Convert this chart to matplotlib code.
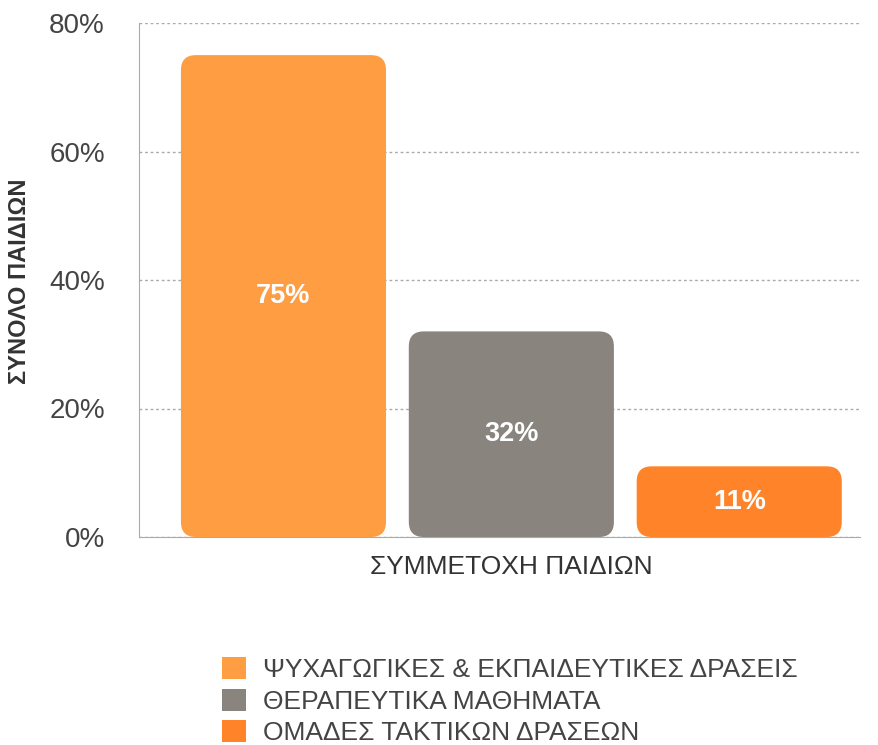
import matplotlib.pyplot as plt
from matplotlib.patches import FancyBboxPatch, Patch

plt.rcParams['font.family'] = ['Liberation Sans', 'DejaVu Sans']

# data
categories = ['ΨΥΧΑΓΩΓΙΚΕΣ & ΕΚΠΑΙΔΕΥΤΙΚΕΣ ΔΡΑΣΕΙΣ',
              'ΘΕΡΑΠΕΥΤΙΚΑ ΜΑΘΗΜΑΤΑ',
              'ΟΜΑΔΕΣ ΤΑΚΤΙΚΩΝ ΔΡΑΣΕΩΝ']
values = [0.75, 0.32, 0.11]
colors = ['#FE9D41', '#8A847F', '#FF8429']
y_ticks = [0, 0.2, 0.4, 0.6, 0.8]
y_tick_labels = ['0%', '20%', '40%', '60%', '80%']
x_title = 'ΣΥΜΜΕΤΟΧΗ ΠΑΙΔΙΩΝ'
y_title = 'ΣΥΝΟΛΟ ΠΑΙΔΙΩΝ'

W, H = 879, 745
fig = plt.figure(figsize=(W / 100, H / 100), dpi=100)
ax = fig.add_axes([139 / W, 1 - 537 / H, (860 - 139) / W, (537 - 23) / H])

bar_w = 0.9
xlim = (-0.634, 2.53)
ylim = (0, 0.8)
ax.set_xlim(*xlim)
ax.set_ylim(*ylim)

# px per data unit, for rounded corners
px_x = (860 - 139) / (xlim[1] - xlim[0])
px_y = (537 - 23) / (ylim[1] - ylim[0])
r = 15 / px_x
aspect = px_x / px_y

for i, (v, c) in enumerate(zip(values, colors)):
    box = FancyBboxPatch((i - bar_w / 2, 0), bar_w, v,
                         boxstyle='round,pad=0,rounding_size=%f' % r,
                         mutation_aspect=aspect, fc=c, ec='none', zorder=3)
    ax.add_patch(box)
    ax.text(i, v / 2, '%d%%' % round(v * 100), ha='center', va='center',
            color='white', fontsize=19.5, fontweight='bold', zorder=4)

ax.set_yticks(y_ticks)
ax.set_yticklabels(y_tick_labels, fontsize=20, color='#444444')
ax.set_xticks([1])
ax.set_xticklabels([x_title], fontsize=19, color='#333333')
ax.tick_params(axis='both', length=0)
ax.tick_params(axis='y', pad=24.5)
ax.tick_params(axis='x', pad=13)

ax.grid(axis='y', linestyle=(0, (2, 2)), color='#aaaaaa', lw=1, zorder=0)
for s in ['top', 'right']:
    ax.spines[s].set_visible(False)
ax.spines['left'].set_color('#aaaaaa')
ax.spines['bottom'].set_color('#aaaaaa')

fig.text(20 / W, 1 - 281 / H, y_title, rotation=90, ha='center', va='center',
         fontsize=17, fontweight='bold', color='#333333')

handles = [Patch(fc=c, ec='none') for c in colors]
fig.legend(handles, categories, loc='upper left',
           bbox_to_anchor=(222 / W, 1 - 657 / H), frameon=False,
           borderpad=0, borderaxespad=0, fontsize=19,
           handlelength=0.9, handleheight=0.9, handletextpad=0.65,
           labelspacing=0.25, labelcolor='#444444')

fig.savefig('out.png', dpi=100)
